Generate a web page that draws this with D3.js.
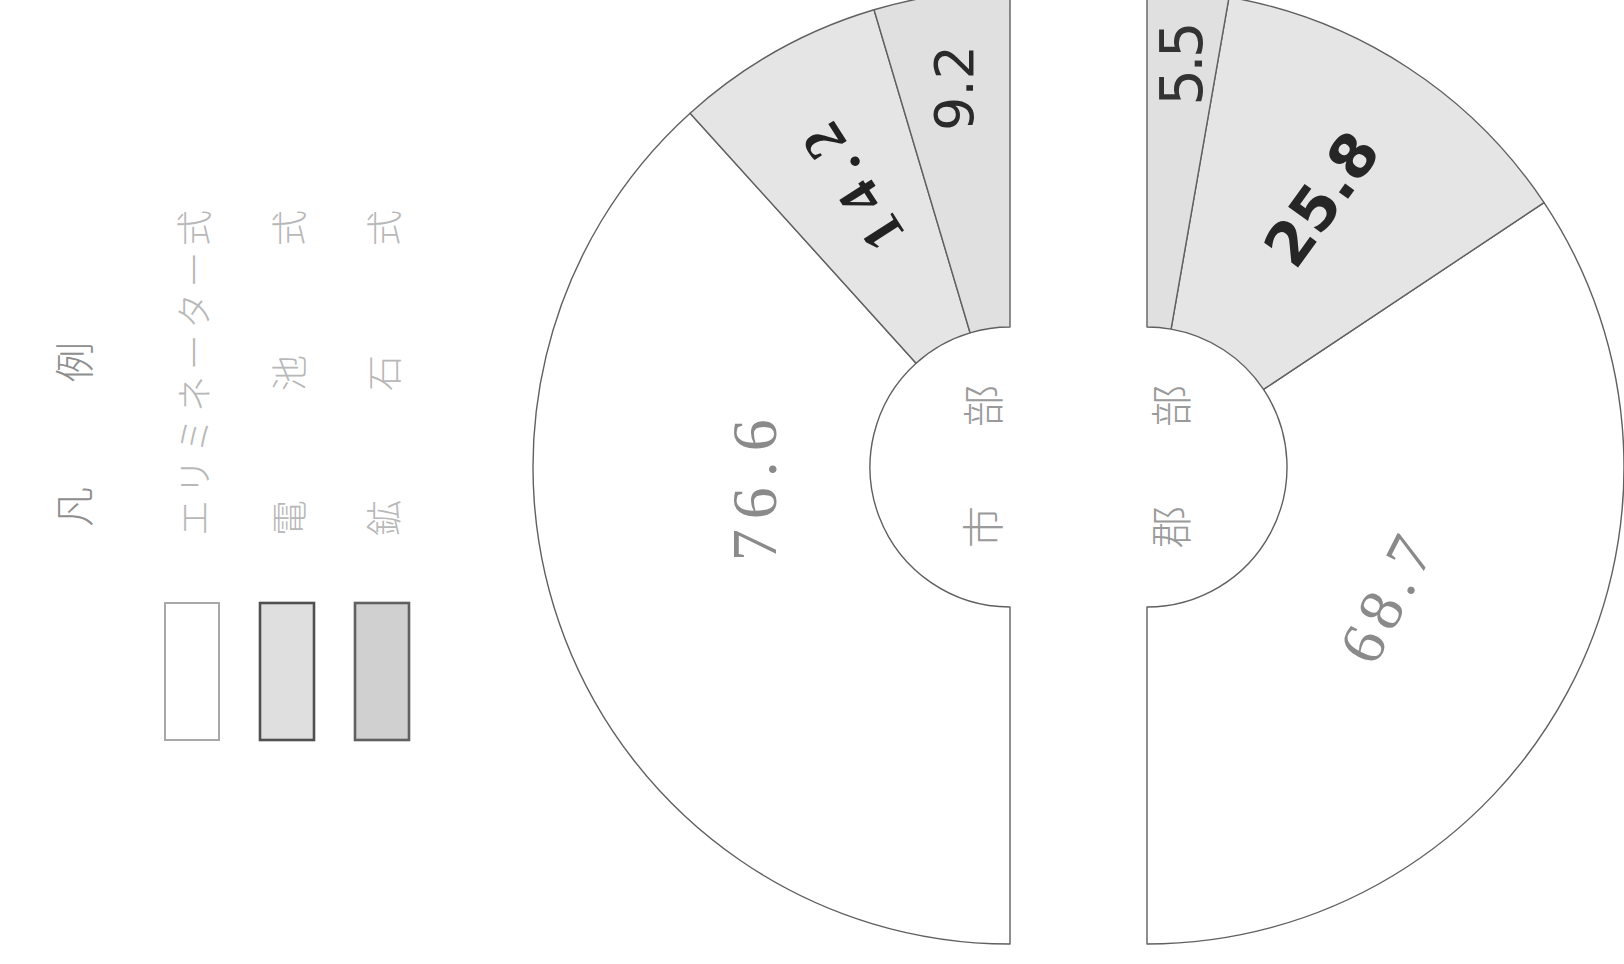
<!DOCTYPE html>
<html>
<head>
<meta charset="utf-8">
<script src="https://cdn.jsdelivr.net/npm/d3@7"></script>
<style>
  html, body { margin: 0; padding: 0; background: #ffffff; }
  svg { display: block; }
</style>
</head>
<body>
<svg id="chart" width="1624" height="964"></svg>
<script>
// ---- data ----
const legendTitle = "凡例";
const categories = ["エリミネーター式", "電池式", "鉱石式"];
const halves = ["市部", "郡部"];
const cityValues = [76.6, 14.2, 9.2];
const countyValues = [68.7, 25.8, 5.5];

// ---- layout / style ----
const fills = ["#ffffff", "#e5e5e5", "#e0e0e0"];
const legendFills = ["#ffffff", "#dfdfdf", "#d0d0d0"];
const legendStrokes = ["#a8a8a8", "#505050", "#606060"];
const centerY = 467;
const halfCenters = [1010, 1147];
const innerR = 140, outerR = 477;

// label placement (radius, angle shift in degrees, text rotation)
const labelLayout = [
  [ {r: 256, shift: 17, rot: -90}, {r: 327, shift: 0, rot: -122.6}, {r: 383, shift: 0, rot: -90} ],
  [ {r: 273, shift: 0, rot: -63}, {r: 320, shift: 0, rot: -54}, {r: 403, shift: 0, rot: -90} ]
];
const labelStylesCity = [
  {family: "'Liberation Serif', serif", size: 64, weight: 400, fill: "#8a8a8a", spacing: 10},
  {family: "'Liberation Serif', serif", size: 58, weight: 700, fill: "#222222", spacing: 12},
  {family: "'DejaVu Sans', sans-serif", size: 54, weight: 400, fill: "#2a2a2a", spacing: 0}
];
const labelStylesCounty = [
  {family: "'Liberation Serif', serif", size: 62, weight: 400, fill: "#8a8a8a", spacing: 8},
  {family: "'DejaVu Sans', sans-serif", size: 60, weight: 700, fill: "#262626", spacing: 0},
  {family: "'DejaVu Sans', sans-serif", size: 58, weight: 400, fill: "#333333", spacing: -4}
];

const svg = d3.select("#chart");
const toRad = d => d * Math.PI / 180;

const arc = d3.arc().innerRadius(innerR).outerRadius(outerR);

const pies = [
  d3.pie().sort(null).startAngle(Math.PI).endAngle(2 * Math.PI),
  d3.pie().sort(null).startAngle(Math.PI).endAngle(0)
];
const seriesList = [cityValues, countyValues];
const styleList = [labelStylesCity, labelStylesCounty];

seriesList.forEach((vals, h) => {
  const cx = halfCenters[h];
  const g = svg.append("g").attr("transform", `translate(${cx},${centerY})`);
  const arcs = pies[h](vals);

  g.selectAll("path.seg")
    .data(arcs)
    .join("path")
    .attr("class", "seg")
    .attr("d", arc)
    .attr("fill", (d, i) => fills[i])
    .attr("stroke", "#606060")
    .attr("stroke-width", 1.4)
    .attr("stroke-linejoin", "round");

  g.selectAll("text.val")
    .data(arcs)
    .join("text")
    .attr("class", "val")
    .each(function (d, i) {
      const lay = labelLayout[h][i];
      const st = styleList[h][i];
      const a = (d.startAngle + d.endAngle) / 2 + toRad(lay.shift);
      const x = lay.r * Math.sin(a);
      const y = -lay.r * Math.cos(a);
      d3.select(this)
        .attr("transform", `translate(${x},${y}) rotate(${lay.rot})`)
        .attr("text-anchor", "middle")
        .attr("dominant-baseline", "central")
        .attr("font-family", st.family)
        .attr("font-size", st.size)
        .attr("font-weight", st.weight)
        .attr("letter-spacing", st.spacing)
        .attr("fill", st.fill)
        .text(d3.format(".1f")(d.value));
    });

  // half name inside the hole
  const chars = Array.from(halves[h]);
  const xOff = h === 0 ? -30 : 21;
  const ys = [527, 406];
  g.selectAll("text.name")
    .data(chars)
    .join("text")
    .attr("class", "name")
    .attr("transform", (c, i) => `translate(${xOff},${ys[i] - centerY}) rotate(-90)`)
    .attr("text-anchor", "middle")
    .attr("dominant-baseline", "central")
    .attr("font-family", "'Noto Sans CJK JP', sans-serif")
    .attr("font-weight", 300)
    .attr("font-size", 42)
    .attr("fill", "#9a9a9a")
    .text(c => c);
});

// ---- legend ----
const legend = svg.append("g");
const legendX = [192, 287, 382];
const rectW = 54, rectTop = 603, rectH = 137;

legend.selectAll("rect")
  .data(categories)
  .join("rect")
  .attr("x", (d, i) => legendX[i] - rectW / 2)
  .attr("y", rectTop)
  .attr("width", rectW)
  .attr("height", rectH)
  .attr("fill", (d, i) => legendFills[i])
  .attr("stroke", (d, i) => legendStrokes[i])
  .attr("stroke-width", (d, i) => i === 0 ? 2 : 2.6);

const textBottom = 518, textTop = 228;
categories.forEach((name, i) => {
  const chars = Array.from(name);
  const n = chars.length;
  const step = (textBottom - textTop) / (n - 1);
  legend.selectAll(null)
    .data(chars)
    .join("text")
    .attr("transform", (c, k) => `translate(${legendX[i]},${textBottom - k * step}) rotate(-90)`)
    .attr("text-anchor", "middle")
    .attr("dominant-baseline", "central")
    .attr("font-family", "'Noto Sans CJK JP', sans-serif")
    .attr("font-weight", 300)
    .attr("font-size", 36)
    .attr("fill", "#b8b8b8")
    .text(c => c);
});

const titleYs = [507, 362];
legend.selectAll("text.title")
  .data(Array.from(legendTitle))
  .join("text")
  .attr("class", "title")
  .attr("transform", (c, k) => `translate(72,${titleYs[k]}) rotate(-90)`)
  .attr("text-anchor", "middle")
  .attr("dominant-baseline", "central")
  .attr("font-family", "'Noto Sans CJK JP', sans-serif")
  .attr("font-weight", 300)
  .attr("font-size", 40)
  .attr("fill", "#8e8e8e")
  .text(c => c);
</script>
</body>
</html>
